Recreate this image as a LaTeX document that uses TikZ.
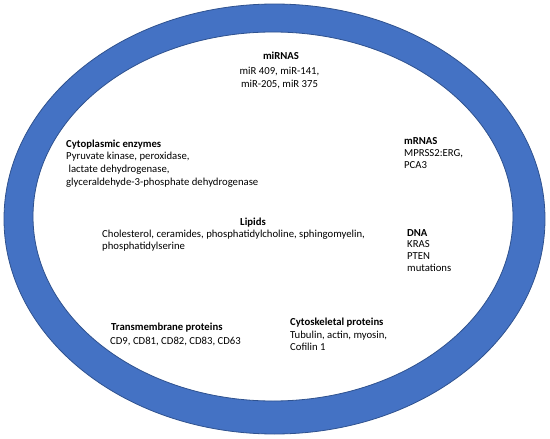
\documentclass[tikz,border=0pt]{standalone}
\usepackage{fontspec}
\setmainfont{Carlito}
\definecolor{ringblue}{HTML}{4472C4}
\definecolor{ringedge}{HTML}{2F528F}
\begin{document}
\begin{tikzpicture}[x=1pt,y=-1pt,
  txt/.style={inner sep=0pt,align=left,font=\fontsize{10.7}{12}\selectfont,text=black},
  ttl/.style={txt,font=\fontsize{10.7}{12}\selectfont\bfseries}]
\useasboundingbox (0,0) rectangle (550,439);
\fill[white] (0,0) rectangle (550,439);
% ring
\path[fill=ringblue,even odd rule,draw=ringedge,line width=0.8pt]
  (274.5,219) ellipse [x radius=270.5,y radius=215]
  (273,216.5) ellipse [x radius=240,y radius=184.5];
% miRNAs (base anchor = baseline of last line)
\node[ttl,anchor=base] (mirT) at (281,59.5) {miRNAS};
\node[txt,anchor=base,align=center,font=\fontsize{10.7}{13}\selectfont] (mirB) at (279.5,87) {miR 409, miR-141,\\miR-205, miR 375};
% cytoplasmic enzymes
\node[ttl,anchor=base west] (cytT) at (66,147.5) {Cytoplasmic enzymes};
\node[txt,anchor=base west,font=\fontsize{10.7}{13}\selectfont] (cytB) at (66,185.5) {Pyruvate kinase, peroxidase,\\\ lactate dehydrogenase,\\glyceraldehyde-3-phosphate dehydrogenase};
% mRNAs
\node[ttl,anchor=base west] (mrnaT) at (404,144.5) {mRNAS};
\node[txt,anchor=base west,font=\fontsize{10.7}{11.5}\selectfont] (mrnaB) at (404,168) {MPRSS2:ERG,\\PCA3};
% lipids
\node[ttl,anchor=base] (lipT) at (253,225.5) {Lipids};
\node[txt,anchor=base west] (lipB) at (102,249.5) {Cholesterol, ceramides, phosphatidylcholine, sphingomyelin,\\phosphatidylserine};
% DNA
\node[ttl,anchor=base west] (dnaT) at (407,236.5) {DNA};
\node[txt,anchor=base west] (dnaB) at (407,271.5) {KRAS\\PTEN\\mutations};
% transmembrane proteins
\node[ttl,anchor=base west] (tmT) at (111,330.5) {Transmembrane proteins};
\node[txt,anchor=base west] (tmB) at (110,344.5) {CD9, CD81, CD82, CD83, CD63};
% cytoskeletal proteins
\node[ttl,anchor=base west] (cskT) at (290,325.5) {Cytoskeletal proteins};
\node[txt,anchor=base west] (cskB) at (290,350.5) {Tubulin, actin, myosin,\\Cofilin 1};
\end{tikzpicture}
\end{document}
